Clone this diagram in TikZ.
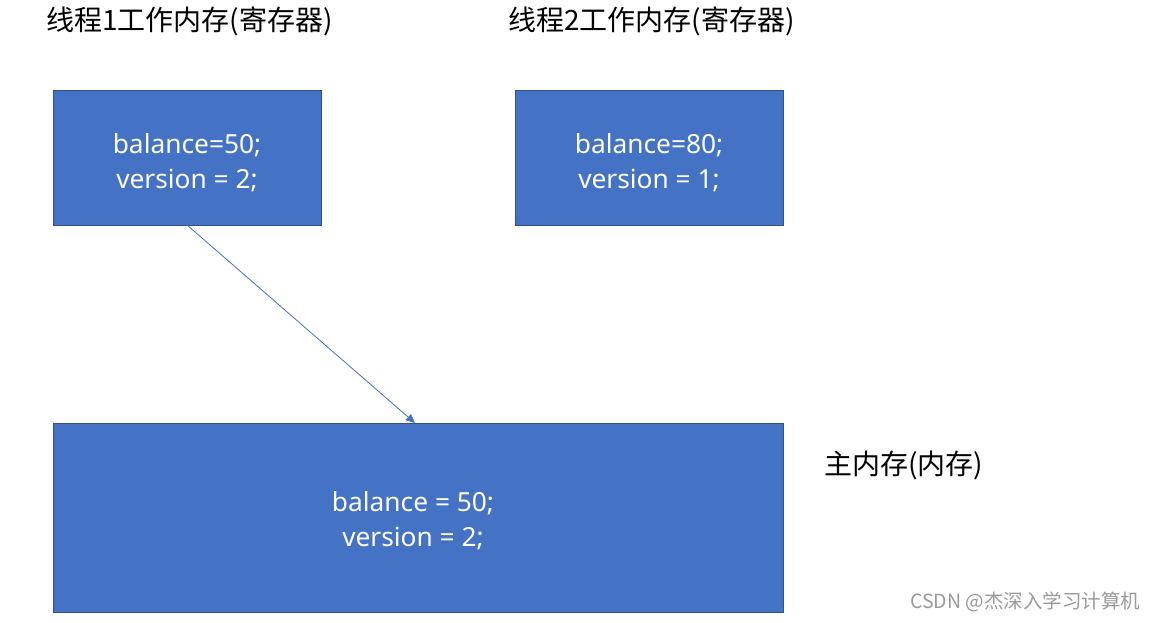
\documentclass[tikz,border=0pt]{standalone}
\usepackage{fontspec}
\setmainfont{Noto Sans}
\newfontfamily\cjk{Noto Sans CJK SC}
\usetikzlibrary{arrows.meta}
\definecolor{boxfill}{HTML}{4472C4}
\definecolor{boxline}{HTML}{2F528F}
\definecolor{wm}{HTML}{9A9A9A}
\tikzset{
  membox/.style={draw=boxline, line width=1pt, fill=boxfill, inner sep=0pt},
  boxtext/.style={text=white, align=center, font=\fontsize{26.3}{35}\selectfont},
  title/.style={anchor=west, inner sep=0pt, font=\cjk\fontsize{28}{32}\selectfont},
  conn/.style={draw=boxfill, line width=0.8pt, -{Triangle[length=9pt,width=8pt]}}
}
\begin{document}
\begin{tikzpicture}[x=1pt,y=-1pt]
\useasboundingbox (0,0) rectangle (1156,622);
\fill[white] (0,0) rectangle (1156,622);
% boxes
\path[membox] (53,90) rectangle (321,225);
\path[membox] (515,90) rectangle (783,225);
\path[membox] (53,423) rectangle (783,612);
\node[boxtext] (t1) at (187,162.5) {balance=50;\\version = 2;};
\node[boxtext] (t2) at (649,162.5) {balance=80;\\version = 1;};
\node[boxtext] (t3) at (413,521) {balance = 50;\\version = 2;};
\coordinate (s) at (187,225);
\coordinate (e) at (415,423);
\draw[conn] (s) -- (e);
\node[title] (l1) at (46,21) {线程1工作内存(寄存器)};
\node[title] (l2) at (508,21) {线程2工作内存(寄存器)};
\node[title] (l3) at (824,465) {主内存(内存)};
\node[anchor=west, inner sep=0pt, text=wm, font=\cjk\fontsize{19.5}{22}\selectfont] (wm) at (910,602) {CSDN @杰深入学习计算机};
\end{tikzpicture}
\end{document}
